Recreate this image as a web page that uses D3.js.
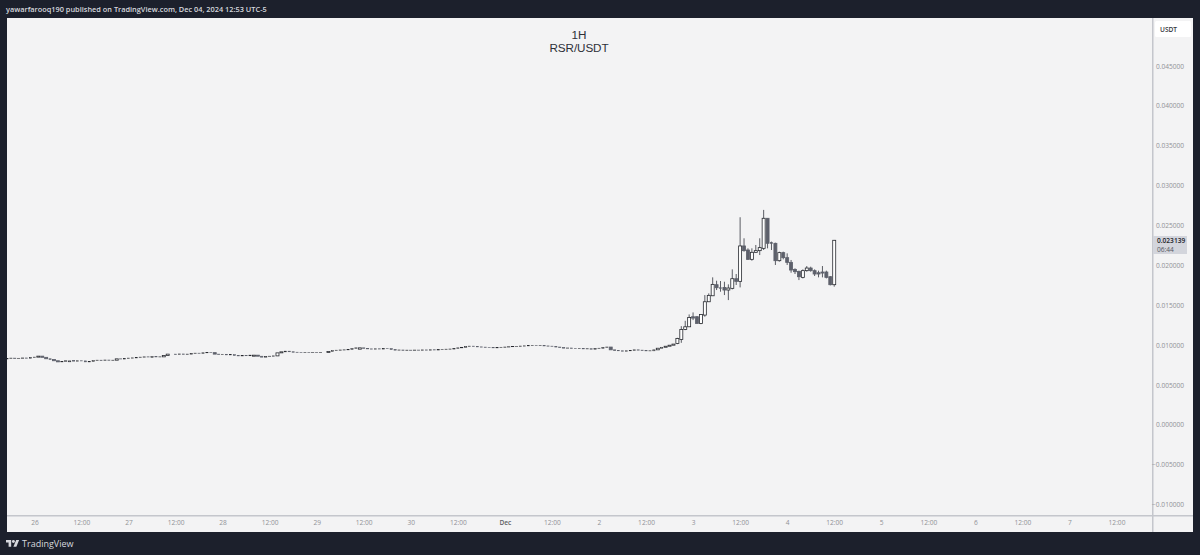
<!DOCTYPE html>
<html>
<head>
<meta charset="utf-8">
<script src="https://cdn.jsdelivr.net/npm/d3@7"></script>
<style>
html, body { margin: 0; padding: 0; background: #1c202c; overflow: hidden; }
text { font-family: "Open Sans", "DejaVu Sans", sans-serif; }
</style>
</head>
<body>
<div id="chart"></div>
<script>
// hourly candles, first one is Nov 25 17:00
const firstCandle = new Date(Date.UTC(2024, 10, 25, 17))

const opens = [
  0.00826,0.00832,0.00836,0.00829,0.00834,0.00838,0.00835,0.00844,0.00848,0.00861,
  0.00846,0.00828,0.00819,0.00803,0.00789,0.00794,0.00790,0.00808,0.00798,0.00803,
  0.00801,0.00789,0.00795,0.00806,0.00810,0.00804,0.00812,0.00809,0.00810,0.00827,
  0.00825,0.00833,0.00836,0.00839,0.00843,0.00848,0.00852,0.00846,0.00855,0.00851,
  0.00852,0.00868,0.00886,0.00886,0.00880,0.00888,0.00884,0.00886,0.00893,0.00898,
  0.00896,0.00903,0.00907,0.00905,0.00886,0.00880,0.00884,0.00877,0.00879,0.00870,
  0.00864,0.00868,0.00866,0.00860,0.00873,0.00860,0.00848,0.00855,0.00860,0.00864,
  0.00902,0.00915,0.00923,0.00916,0.00910,0.00907,0.00905,0.00909,0.00906,0.00908,
  0.00904,0.00907,0.00907,0.00920,0.00932,0.00935,0.00938,0.00940,0.00946,0.00955,
  0.00948,0.00965,0.00958,0.00952,0.00949,0.00953,0.00950,0.00957,0.00955,0.00944,
  0.00936,0.00938,0.00934,0.00936,0.00933,0.00937,0.00935,0.00939,0.00936,0.00941,
  0.00938,0.00943,0.00946,0.00948,0.00950,0.00958,0.00965,0.00972,0.00980,0.00986,
  0.00982,0.00977,0.00974,0.00970,0.00968,0.00965,0.00968,0.00972,0.00975,0.00979,
  0.00982,0.00984,0.00987,0.00990,0.00993,0.00995,0.00992,0.00996,0.00989,0.00986,
  0.00984,0.00975,0.00968,0.00961,0.00963,0.00958,0.00955,0.00957,0.00952,0.00954,
  0.00948,0.00955,0.00960,0.00968,0.00975,0.00940,0.00930,0.00928,0.00923,0.00928,
  0.00932,0.00940,0.00936,0.00930,0.00927,0.00928,0.00940,0.00960,0.00972,0.00985,
  0.00998,
  0.01020,0.01070,0.01196,0.01229,0.01355,0.01355,0.01271,0.01376,0.01543,0.01618,
  0.01757,0.01719,0.01723,0.01690,0.01711,0.01832,0.01799,0.02243,0.02192,0.02075,
  0.02163,0.02184,0.02213,0.02590,0.02284,0.02276,0.02058,0.02159,0.02096,0.02037,
  0.01949,0.01924,0.01849,0.01933,0.01966,0.01933,0.01907,0.01916,0.01916,0.01857,
  0.01757
]
const closes = [
  0.00832,0.00836,0.00829,0.00834,0.00838,0.00835,0.00844,0.00848,0.00861,0.00846,
  0.00828,0.00819,0.00803,0.00789,0.00794,0.00803,0.00801,0.00798,0.00803,0.00801,
  0.00789,0.00795,0.00806,0.00810,0.00804,0.00812,0.00809,0.00810,0.00827,0.00825,
  0.00833,0.00836,0.00839,0.00843,0.00848,0.00852,0.00850,0.00855,0.00851,0.00852,
  0.00868,0.00886,0.00886,0.00880,0.00888,0.00884,0.00886,0.00893,0.00898,0.00896,
  0.00903,0.00907,0.00905,0.00886,0.00880,0.00884,0.00877,0.00879,0.00870,0.00864,
  0.00868,0.00866,0.00873,0.00873,0.00860,0.00848,0.00855,0.00860,0.00864,0.00902,
  0.00915,0.00923,0.00916,0.00910,0.00907,0.00905,0.00909,0.00906,0.00908,0.00904,
  0.00907,0.00907,0.00920,0.00932,0.00935,0.00938,0.00940,0.00946,0.00955,0.00965,
  0.00965,0.00958,0.00952,0.00949,0.00953,0.00950,0.00957,0.00955,0.00944,0.00936,
  0.00938,0.00934,0.00936,0.00933,0.00937,0.00935,0.00939,0.00936,0.00941,0.00938,
  0.00943,0.00946,0.00948,0.00950,0.00958,0.00965,0.00972,0.00980,0.00986,0.00982,
  0.00977,0.00974,0.00970,0.00968,0.00965,0.00968,0.00972,0.00975,0.00979,0.00982,
  0.00984,0.00987,0.00990,0.00993,0.00995,0.00992,0.00996,0.00989,0.00986,0.00984,
  0.00975,0.00968,0.00961,0.00963,0.00958,0.00955,0.00957,0.00952,0.00954,0.00948,
  0.00955,0.00960,0.00968,0.00975,0.00940,0.00930,0.00928,0.00923,0.00928,0.00932,
  0.00940,0.00936,0.00930,0.00927,0.00928,0.00940,0.00960,0.00972,0.00985,0.00998,
  0.01012,
  0.01082,0.01196,0.01229,0.01346,0.01338,0.01271,0.01384,0.01543,0.01623,0.01761,
  0.01719,0.01711,0.01690,0.01715,0.01832,0.01799,0.02243,0.02184,0.02075,0.02163,
  0.02184,0.02222,0.02590,0.02276,0.02272,0.02058,0.02159,0.02096,0.02037,0.01941,
  0.01920,0.01857,0.01933,0.01966,0.01933,0.01891,0.01891,0.01903,0.01849,0.01757,
  0.023139
]
// wicks only for the last candles, further left they are too small to see
const highs = [
  0.01091,0.01237,0.01304,0.01384,0.01409,0.01363,0.01384,0.01627,0.01648,0.01849,
  0.01807,0.01803,0.01794,0.01761,0.01949,0.01891,0.02603,0.02339,0.02213,0.02213,
  0.02255,0.02339,0.02695,0.02590,0.02297,0.02284,0.02171,0.02171,0.02150,0.02067,
  0.01962,0.01933,0.01949,0.01991,0.01983,0.01949,0.01933,0.01991,0.01933,0.01866,
  0.02318
]
const lows = [
  0.01011,0.01028,0.01187,0.01229,0.01313,0.01271,0.01262,0.01355,0.01543,0.01618,
  0.01690,0.01669,0.01627,0.01564,0.01698,0.01753,0.01723,0.02171,0.02067,0.02058,
  0.02159,0.02129,0.02192,0.02213,0.02192,0.02004,0.02046,0.02075,0.02004,0.01907,
  0.01891,0.01815,0.01836,0.01920,0.01920,0.01866,0.01849,0.01849,0.01836,0.01748,
  0.01732
]

const priceTicks = [0.045, 0.04, 0.035, 0.03, 0.025, 0.02, 0.015, 0.01, 0.005, 0, -0.005, -0.01]
const timeTicks = [
  [Date.UTC(2024, 10, 26), '26'], [Date.UTC(2024, 10, 26, 12), '12:00'],
  [Date.UTC(2024, 10, 27), '27'], [Date.UTC(2024, 10, 27, 12), '12:00'],
  [Date.UTC(2024, 10, 28), '28'], [Date.UTC(2024, 10, 28, 12), '12:00'],
  [Date.UTC(2024, 10, 29), '29'], [Date.UTC(2024, 10, 29, 12), '12:00'],
  [Date.UTC(2024, 10, 30), '30'], [Date.UTC(2024, 10, 30, 12), '12:00'],
  [Date.UTC(2024, 11, 1), 'Dec'], [Date.UTC(2024, 11, 1, 12), '12:00'],
  [Date.UTC(2024, 11, 2), '2'], [Date.UTC(2024, 11, 2, 12), '12:00'],
  [Date.UTC(2024, 11, 3), '3'], [Date.UTC(2024, 11, 3, 12), '12:00'],
  [Date.UTC(2024, 11, 4), '4'], [Date.UTC(2024, 11, 4, 12), '12:00'],
  [Date.UTC(2024, 11, 5), '5'], [Date.UTC(2024, 11, 5, 12), '12:00'],
  [Date.UTC(2024, 11, 6), '6'], [Date.UTC(2024, 11, 6, 12), '12:00'],
  [Date.UTC(2024, 11, 7), '7'], [Date.UTC(2024, 11, 7, 12), '12:00']
]
const lastPrice = '0.023139'
const countdown = '06:44'

const width = 1200, height = 555
const pane = {left: 7, right: 1152, top: 18, bottom: 515}

const svg = d3.select('#chart').append('svg')
    .attr('width', width)
    .attr('height', height)
    .style('display', 'block')

svg.append('rect').attr('width', width).attr('height', height).attr('fill', '#1c202c')

// chart frame
svg.append('rect')
    .attr('x', pane.left).attr('y', pane.top)
    .attr('width', 1193 - pane.left).attr('height', 532 - pane.top)
    .attr('fill', '#f3f3f4')
svg.append('rect')
    .attr('x', pane.right).attr('y', pane.top)
    .attr('width', 1.5).attr('height', 532 - pane.top)
    .attr('fill', '#c4c6cc')
svg.append('rect')
    .attr('x', pane.left).attr('y', pane.bottom)
    .attr('width', 1193 - pane.left).attr('height', 1.5)
    .attr('fill', '#c4c6cc')

svg.append('clipPath').attr('id', 'pane')
  .append('rect')
    .attr('x', pane.left).attr('y', pane.top)
    .attr('width', pane.right - pane.left).attr('height', pane.bottom - pane.top)

const xScale = d3.scaleUtc()
    .domain([new Date(timeTicks[0][0]), new Date(timeTicks[timeTicks.length - 1][0])])
    .range([34.4, 1116.5])

const yScale = d3.scaleLinear()
    .domain([0.045, -0.01])
    .range([66, 504.5])

const candles = opens.map((o, i) => ({
    date: d3.utcHour.offset(firstCandle, i),
    open: o,
    close: closes[i],
    high: highs[i - (opens.length - highs.length)],
    low: lows[i - (opens.length - lows.length)]
}))

const bodyHeight = d => Math.abs(yScale(d.open) - yScale(d.close))
// thin bodies come out as short light dashes, the gaps must stay open
const isThin = d => bodyHeight(d) < 1

const plot = svg.append('g').attr('clip-path', 'url(#pane)')

plot.selectAll('line.wick')
    .data(candles.filter(d => d.high !== undefined))
    .enter()
    .append('line')
    .attr('class', 'wick')
    .attr('x1', d => xScale(d.date))
    .attr('x2', d => xScale(d.date))
    .attr('y1', d => yScale(d.high))
    .attr('y2', d => yScale(d.low))
    .attr('stroke', '#4a4c54')
    .attr('stroke-width', 0.9)

plot.selectAll('rect.body')
    .data(candles)
    .enter()
    .append('rect')
    .attr('class', 'body')
    .attr('x', d => xScale(d.date) - (isThin(d) ? 1.1 : 1.5))
    .attr('width', d => isThin(d) ? 2.2 : 3)
    .attr('y', d => yScale(Math.max(d.open, d.close)))
    .attr('height', bodyHeight)
    .attr('fill', d => d.close >= d.open ? '#ffffff' : '#5d606b')
    .attr('stroke', d => d.close >= d.open ? '#26282e' : '#5d606b')
    .attr('stroke-width', d => isThin(d) ? 0.6 : 0.8)

// axes
const yAxis = d3.axisRight(yScale)
    .tickValues(priceTicks)
    .tickSize(0)
    .tickPadding(0)
    .tickFormat(d => (d < 0 ? '\u2212' : '') + Math.abs(d).toFixed(6))
svg.append('g')
    .attr('transform', 'translate(1184,0)')
    .call(yAxis)
    .call(g => g.select('.domain').remove())
    .selectAll('text')
    .attr('text-anchor', 'end')
    .attr('font-size', 6.6)
    .attr('fill', '#909196')

const xAxis = d3.axisBottom(xScale)
    .tickValues(timeTicks.map(d => new Date(d[0])))
    .tickSize(0)
    .tickPadding(0)
    .tickFormat((d, i) => timeTicks[i][1])
svg.append('g')
    .attr('transform', 'translate(0,520.5)')
    .call(xAxis)
    .call(g => g.select('.domain').remove())
    .selectAll('text')
    .attr('font-size', 6.6)
    .attr('font-weight', (d, i) => timeTicks[i][1] === 'Dec' ? 600 : 400)
    .attr('fill', (d, i) => timeTicks[i][1] === 'Dec' ? '#606166' : '#909196')

// title
svg.append('text').attr('x', 579).attr('y', 38.8).attr('text-anchor', 'middle')
    .style('font-family', '"Liberation Sans", sans-serif')
    .attr('font-size', 11.7).attr('fill', '#2e3038').text('1H')
svg.append('text').attr('x', 579).attr('y', 52.3).attr('text-anchor', 'middle')
    .style('font-family', '"Liberation Sans", sans-serif')
    .attr('font-size', 11.7).attr('letter-spacing', -0.1).attr('fill', '#2e3038').text('RSR/USDT')

// currency button
svg.append('rect')
    .attr('x', 1155).attr('y', 21).attr('width', 36).attr('height', 16).attr('rx', 1.5)
    .attr('fill', '#ffffff')
svg.append('text').attr('x', 1160).attr('y', 31.5)
    .attr('font-size', 6.6).attr('font-weight', 600).attr('fill', '#33353c').text('USDT')

// last price label
svg.append('rect')
    .attr('x', 1153).attr('y', 236).attr('width', 34).attr('height', 18)
    .attr('fill', '#d3d5dc')
svg.append('text').attr('x', 1157).attr('y', 243.3)
    .attr('font-size', 6.6).attr('font-weight', 600).attr('fill', '#22242a').text(lastPrice)
svg.append('text').attr('x', 1157).attr('y', 251.6)
    .attr('font-size', 6.6).attr('fill', '#55585f').text(countdown)

// header and footer
svg.append('text').attr('x', 6).attr('y', 12)
    .attr('font-size', 7.36).attr('font-weight', 600).attr('fill', '#d6d8de')
    .text('yawarfarooq190 published on TradingView.com, Dec 04, 2024 12:53 UTC-5')

svg.append('g')
    .attr('transform', 'translate(6,538.5) scale(0.37)')
    .attr('fill', '#d6d8de')
    .call(g => g.append('path').attr('d', 'M14 22H7V11H0V4h14v18zM28 22h-8l7.5-18h8L28 22z'))
    .call(g => g.append('circle').attr('cx', 20).attr('cy', 8).attr('r', 4))
svg.append('text').attr('x', 22).attr('y', 546.5)
    .attr('font-size', 9).attr('font-weight', 500).attr('fill', '#d6d8de').text('TradingView')
</script>
</body>
</html>
